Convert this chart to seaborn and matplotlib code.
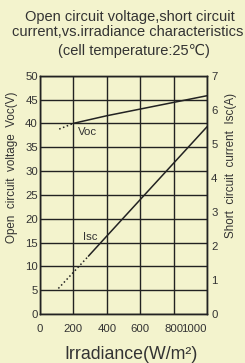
import matplotlib
matplotlib.use("Agg")
import matplotlib.pyplot as plt
import seaborn as sns

# Values
voc_dot_irr = [115, 200]
voc_dot = [38.8, 40.0]
voc_irr = [200, 400, 600, 800, 1000]
voc = [40.0, 41.6, 43.0, 44.4, 45.8]

isc_dot_irr = [110, 290]
isc_dot = [0.75, 1.70]
isc_irr = [290, 400, 600, 800, 1000]
isc = [1.70, 2.29, 3.36, 4.43, 5.50]

x_ticks = [0, 200, 400, 600, 800, 1000]
voc_ticks = list(range(0, 55, 5))
isc_ticks = list(range(0, 8))

bg = "#F3F3CD"
ink = "#222222"
txt = "#333333"

sns.set_style("white")
plt.rcParams["font.family"] = ["Liberation Sans", "DejaVu Sans"]
plt.rcParams["axes.edgecolor"] = ink
plt.rcParams["axes.linewidth"] = 1.0

fig = plt.figure(figsize=(2.45, 3.63), dpi=100, facecolor=bg)
ax = fig.add_axes([40 / 245, 1 - 314 / 363, 167 / 245, (314 - 75.7) / 363])
ax.set_facecolor(bg)
ax2 = ax.twinx()

# Voc on the left axis
sns.lineplot(x=voc_dot_irr, y=voc_dot, ax=ax, color=ink, lw=1.1, linestyle=":")
sns.lineplot(x=voc_irr, y=voc, ax=ax, color=ink, lw=1.1)

# Isc on the right axis
sns.lineplot(x=isc_dot_irr, y=isc_dot, ax=ax2, color=ink, lw=1.1, linestyle=":")
sns.lineplot(x=isc_irr, y=isc, ax=ax2, color=ink, lw=1.1)

ax.set_xlim(0, 1000)
ax.set_ylim(0, 50)
ax2.set_ylim(0, 7)

ax.set_xticks(x_ticks)
ax.set_yticks(voc_ticks)
ax2.set_yticks(isc_ticks)
ax.grid(True, color=ink, lw=1.0)
ax.set_axisbelow(True)

ax.tick_params(axis="y", length=0, pad=1.5, labelsize=8.2, labelcolor=txt)
ax.tick_params(axis="x", length=0, pad=7, labelsize=8.2, labelcolor=txt)
ax2.tick_params(axis="y", length=0, pad=3, labelsize=8.2, labelcolor=txt)
xl = ax.get_xticklabels()
xl[-1].set_horizontalalignment("right")

for s in ax2.spines.values():
    s.set_color(ink)

ax.text(228, 38.1, "Voc", fontsize=8.2, color=txt, va="center", ha="left")
ax.text(257, 16.2, "Isc", fontsize=8.2, color=txt, va="center", ha="left")

ax.set_ylabel("Open  circuit  voltage  Voc(V)", fontsize=8.4, color=txt)
ax2.set_ylabel("Short  circuit  current  Isc(A)", fontsize=8.4, color=txt)
ax.yaxis.set_label_coords(-22 / 167, (314 - 167) / 238.3)
ax2.yaxis.set_label_coords(1 + 18 / 167, (314 - 166) / 238.3)

fig.text(131 / 245, 1 - 359 / 363, "Irradiance(W/m²)",
         fontsize=12.8, color=txt, ha="center", va="baseline")

fig.text(130 / 245, 1 - 20.7 / 363, "Open circuit voltage,short circuit",
         fontsize=10.5, color=txt, ha="center", va="baseline")
fig.text(128 / 245, 1 - 35.7 / 363, "current,vs.irradiance characteristics",
         fontsize=10.5, color=txt, ha="center", va="baseline")
fig.text(58 / 245, 1 - 55 / 363, "(cell temperature:25℃)",
         fontsize=10.5, color=txt, ha="left", va="baseline")

fig.savefig("out.png", dpi=100, facecolor=bg)
